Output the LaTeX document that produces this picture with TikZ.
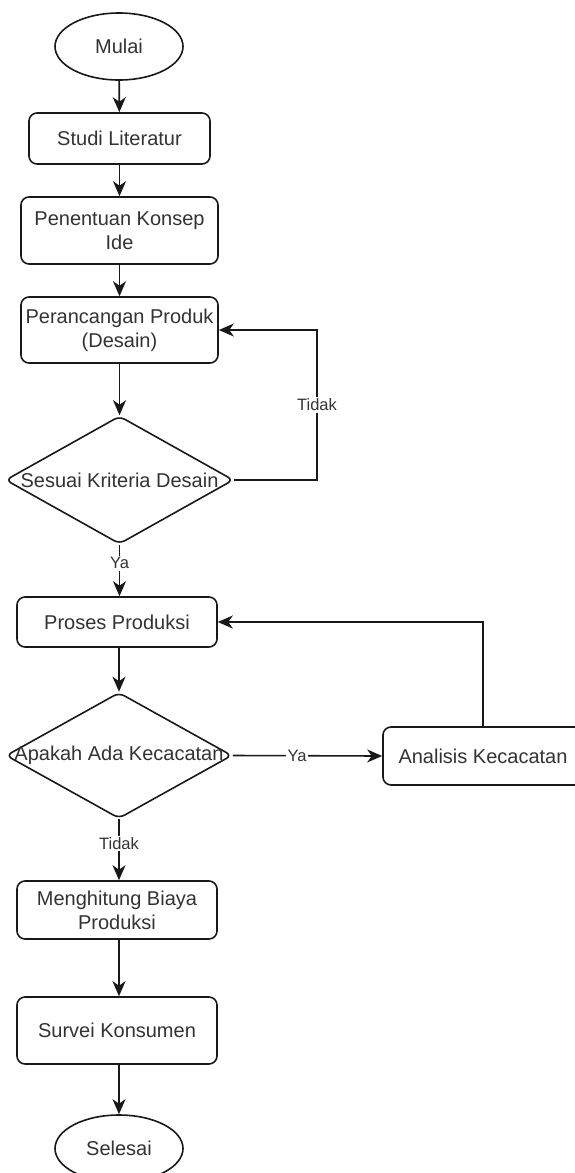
\documentclass[tikz,border=0pt]{standalone}
\usepackage{fontspec}
\setmainfont{Liberation Sans}
\usetikzlibrary{shapes.geometric,arrows.meta}
\newcommand\diagfont{\fontsize{20}{24}\selectfont}
\newcommand\lblfont{\fontsize{16.5}{19.8}\selectfont}
\begin{document}
\begin{tikzpicture}[x=1pt,y=-1pt,
  base/.style={draw=black!90, line width=1.6pt, inner sep=0pt, align=center, font=\diagfont, text=black!80},
  box/.style={base, rounded corners=8pt},
  term/.style={base, ellipse},
  dec/.style={draw=black!90, line width=1.6pt, diamond, rounded corners=6pt, inner sep=0pt},
  dectext/.style={font=\diagfont, text=black!80, inner sep=0pt},
  lbl/.style={font=\lblfont, text=black!80, fill=white, inner sep=1.5pt},
  arr/.style={draw=black!90, line width=1.6pt, -{Stealth[length=15pt,width=13pt,inset=4.5pt]}}]
\useasboundingbox (0,0) rectangle (575,1173);
\fill[white] (0,0) rectangle (575,1173);

\node[term, minimum width=128pt, minimum height=67pt] (mulai) at (119,46.5) {Mulai};
\node[box, minimum width=181pt, minimum height=51pt] (studi) at (119.5,138.5) {Studi Literatur};
\node[box, minimum width=197pt, minimum height=67pt] (konsep) at (119.5,230.5) {Penentuan Konsep\\Ide};
\node[box, minimum width=197pt, minimum height=66pt] (desain) at (119.5,330) {Perancangan Produk\\(Desain)};
\node[dec, minimum width=228pt, minimum height=128pt] (krit) at (119.5,480) {};
\node[dectext] (kritt) at (krit) {Sesuai Kriteria Desain};
\node[box, minimum width=200pt, minimum height=50pt] (proses) at (117,622) {Proses Produksi};
\node[dec, minimum width=226pt, minimum height=126pt] (cacat) at (119,755.5) {};
\node[dectext] (cacatt) at (cacat) {Apakah Ada Kecacatan};
\node[box, minimum width=200pt, minimum height=58pt] (analisis) at (483,756) {Analisis Kecacatan};
\node[box, minimum width=200pt, minimum height=58pt] (biaya) at (117,910) {Menghitung Biaya\\Produksi};
\node[box, minimum width=200pt, minimum height=67pt] (survei) at (117,1030.5) {Survei Konsumen};
\node[term, minimum width=128pt, minimum height=67pt] (selesai) at (119,1148.5) {Selesai};

\coordinate (loop1) at (317,480);

\draw[arr] (mulai) -- (studi);
\draw[arr] (studi) -- (konsep);
\draw[arr] (konsep) -- (desain);
\draw[arr] (desain) -- (krit);
\draw[arr] (krit.east) -- (loop1) |- node[lbl, pos=0.25] {Tidak} (desain.east);
\draw[arr] (krit.south) -- node[lbl, pos=0.36] {Ya} (krit.south |- proses.north);
\draw[arr] (proses.south -| cacat.north) -- (cacat.north);
\draw[arr] (cacat.east) -- node[lbl, pos=0.43] {Ya} (analisis.west);
\draw[arr] (analisis.north) |- (proses.east);
\draw[arr] (cacat.south) -- node[lbl, pos=0.4] {Tidak} (cacat.south |- biaya.north);
\draw[arr] (biaya.south -| selesai.north) -- (selesai.north |- survei.north);
\draw[arr] (survei.south -| selesai.north) -- (selesai.north);
\end{tikzpicture}
\end{document}
